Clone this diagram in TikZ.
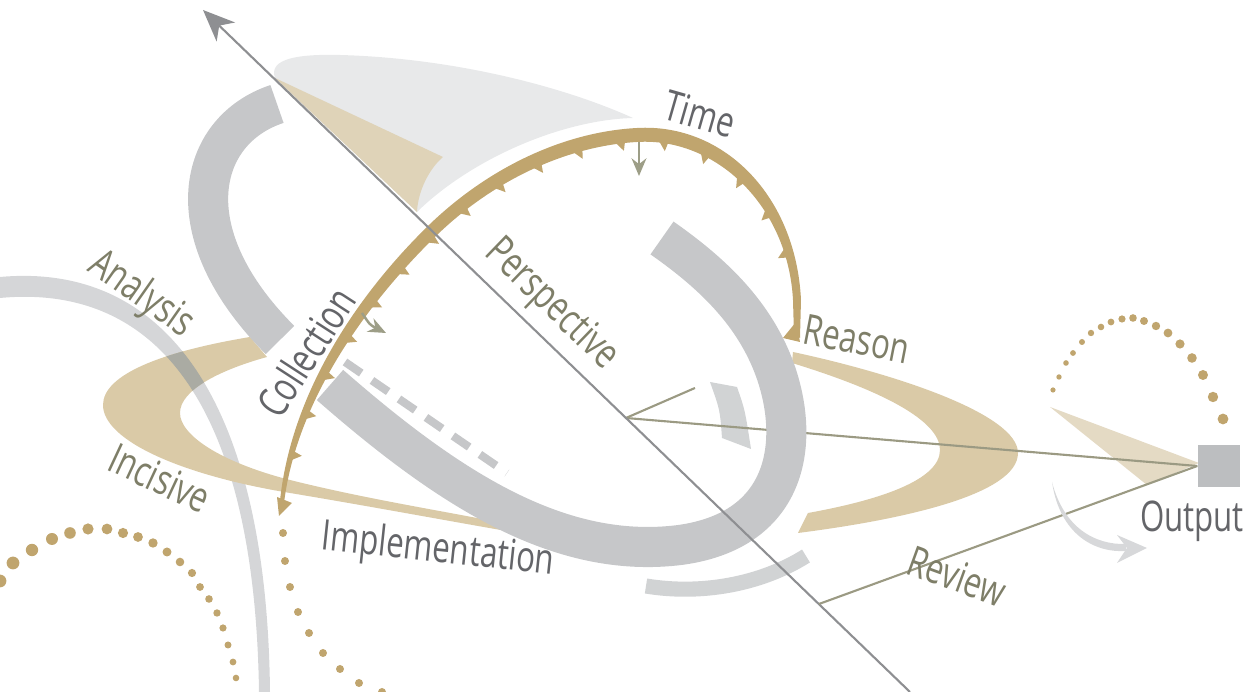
\documentclass[tikz,border=0pt]{standalone}
\usepackage{fontspec}
\setmainfont{Open Sans}[FakeStretch=0.74]
\usetikzlibrary{arrows.meta, decorations.markings, positioning}

\definecolor{ringgray}{HTML}{C6C7C9}
\definecolor{palering}{HTML}{D1D3D4}
\definecolor{sailgray}{HTML}{E8E9EA}
\definecolor{sailtan}{HTML}{DFD3B8}
\definecolor{bandtan}{HTML}{DACAA7}
\definecolor{gold}{HTML}{C0A56E}
\definecolor{linkolive}{HTML}{9B9A83}
\definecolor{axisgray}{HTML}{8E8F92}
\definecolor{textolive}{HTML}{7E7E68}
\definecolor{textdark}{HTML}{646569}
\definecolor{boxgray}{HTML}{BCBEC0}
\definecolor{arcgray}{HTML}{D5D6D8}
\definecolor{arcshade}{HTML}{AAABA3}
\definecolor{wedgetan}{HTML}{E4DAC4}
\definecolor{arrowolive}{HTML}{9D9E87}
\definecolor{sweepgray}{HTML}{D7D8DA}

\tikzset{
    ring/.style={draw=ringgray, line width=11.4pt},
    link/.style={draw=linkolive, line width=0.6pt},
    tag/.style={font=\fontsize{12}{14}\selectfont, text=textolive, inner sep=1pt},
    darktag/.style={tag, text=textdark},
    outbox/.style={rectangle, fill=boxgray, minimum size=0.42cm, inner sep=0pt},
    tick/.style={-{Stealth[length=5pt, width=4.2pt]}, draw=arrowolive, line width=0.7pt},
}

% left half of the tan orbit
\newcommand{\leftband}{(250,337) .. controls (160,352) and (103,375) .. (103,405)
    .. controls (103,440) and (180,475) .. (290,493)
    .. controls (380,508) and (470,525) .. (530,535)
    -- (507,524) .. controls (450,512) and (370,500) .. (290,480)
    .. controls (220,462) and (180,435) .. (180,413)
    .. controls (180,390) and (220,370) .. (267,357) -- cycle}
% thin grey arc under Analysis
\newcommand{\analysisarc}{(0,277) .. controls (165,262) and (267,400) .. (270,692)
    -- (259,692) .. controls (255,410) and (160,283) .. (0,298) -- cycle}
% inner rim of the time arc
\newcommand{\timeinner}{(283,512) .. controls (293,404) and (366,304) .. (437,235)
    .. controls (494,180) and (567,146) .. (637,142)
    .. controls (716,137) and (788,206) .. (793,300) -- (794,335)}

\begin{document}
\begin{tikzpicture}[x=0.01cm, y=-0.01cm]
    \useasboundingbox (0,0) rectangle (1247,692);

    \coordinate (axistop) at (203,10);
    \coordinate (axisbot) at (910,692);
    \coordinate (pivot) at (626,418);
    \coordinate (stub) at (695,388);
    \coordinate (rv) at (819,604);

    % sail
    \fill[sailgray] (275,78) .. controls (268,58) and (300,54) .. (340,55)
        .. controls (450,58) and (560,85) .. (633,118)
        .. controls (560,120) and (470,160) .. (417,212) -- cycle;
    \fill[sailtan] (275,78) -- (443,157) .. controls (430,168) and (418,190) .. (417,212) -- cycle;

    % tan orbit
    \fill[arcgray] \analysisarc;
    \fill[bandtan] \leftband;
    \fill[bandtan] (793,352) .. controls (900,375) and (1018,415) .. (1018,453)
        .. controls (1018,495) and (900,520) .. (798,533)
        -- (808,513) .. controls (880,500) and (940,480) .. (940,450)
        .. controls (940,420) and (880,390) .. (792,363) -- cycle;
    \begin{scope}
        \clip \leftband;
        \clip (0,0) rectangle (400,430);
        \fill[arcshade] \analysisarc;
    \end{scope}

    \fill[palering] (710,382) -- (737,387) .. controls (745,410) .. (751,449)
        -- (722,438) .. controls (720,410) .. (710,382) -- cycle;

    % links to the output
    \fill[wedgetan] (1050,407) -- (1199,463) -- (1147,485) -- cycle;
    \node[outbox] (out) at (1219,466) {};
    \draw[link] (pivot) -- (stub);
    \draw[link] (pivot) -- (out.west);

    % grey ring
    \draw[ring] (277,104) .. controls (198,130) and (172,232) .. (280,340);
    \draw[ring] (330,385) .. controls (450,490) and (560,560) .. (680,545)
        .. controls (790,530) and (800,440) .. (775,370)
        .. controls (755,315) and (715,275) .. (662,238);
    \draw[palering, line width=4.3pt] (646,586) .. controls (700,595) and (760,585) .. (806,556);
    \draw[ringgray, line width=2.3pt, dash pattern=on 5.6pt off 3.7pt] (345,362) -- (507,473);

    % time arc
    \fill[gold] (279,512) .. controls (287,398) and (356,296) .. (429,225)
        .. controls (487,169) and (562,132) .. (637,128)
        .. controls (724,123) and (796,196) .. (801,300) -- (800,338)
        -- (794,335) -- (793,300) .. controls (788,206) and (716,137) .. (637,142)
        .. controls (567,146) and (494,180) .. (437,235)
        .. controls (366,304) and (293,404) .. (283,512) -- cycle;
    \path[decorate, decoration={markings,
        mark=between positions 0.07 and 0.95 step 0.052 with
        {\fill[gold] (1pt,0.3pt) -- (-1.6pt,0.3pt) -- (0.4pt,-2.2pt) -- cycle;}}] \timeinner;
    \fill[gold] (277,497) -- (292,503) -- (279,516) -- cycle;
    \fill[gold] (796,322) -- (800,342) -- (783,338) -- cycle;
    \draw[tick] (639,142) -- (639,176);
    \draw[tick] (362,313) .. controls (370,325) .. (386,333);

    % perspective axis
    \draw[draw=axisgray, line width=0.6pt, -{Stealth[length=9pt, width=7.5pt, inset=2.6pt]}] (axisbot) -- (axistop);
    \draw[link] (rv) -- (out.west);

    % dotted paths
    \foreach \x/\y/\r in {0/581/6.4, 13/563/6.4, 32/550/6.2, 52/539/6, 70/533/5.8, 88/529/5.6,
        107/529/5.4, 123/533/5.1, 138/537/4.9, 153/543/4.7, 167/552/4.5, 180/562/4.3,
        192/573/4.1, 200/587/3.9, 209/599/3.8, 217/613/3.7, 223/628/3.6, 228/645/3.5,
        233/662/3.4, 236/678/3.3}
        \fill[gold] (\x,\y) circle[radius=\r];
    \foreach \x/\y in {283/533, 285/561, 290/587, 298/612, 309/633, 323/653,
        340/669, 359/683, 382/692}
        \fill[gold] (\x,\y) circle[radius=4];
    \foreach \x/\y/\r in {1053/390/2.6, 1059/377/2.7, 1066/363/2.8, 1073/353/2.9,
        1082/342/3, 1091/333/3.2, 1101/327/3.3, 1111/322/3.4, 1122/319/3.6,
        1133/318/3.8, 1144/321/4, 1156/326/4.2, 1168/333/4.4, 1180/344/4.6,
        1192/358/4.8, 1203/375/5, 1213/397/5.2, 1223/419/5.4}
        \fill[gold] (\x,\y) circle[radius=\r];

    % return sweep
    \fill[sweepgray] (1052,482) .. controls (1060,535) and (1095,553) .. (1126,551)
        -- (1126,544) .. controls (1095,545) and (1064,528) .. (1052,482) -- cycle;
    \fill[sweepgray] (1117,535) -- (1147,548) -- (1117,563) -- (1127,548) -- cycle;

    % labels
    \node[darktag, rotate=-16] (time) at (700,114) {Time};
    \node[tag, rotate=-44] (persp) at (551,305) {Perspective};
    \node[darktag, rotate=57] (coll) at (306,352) {Collection};
    \node[tag, rotate=-35] (anal) at (141,295) {Analysis};
    \node[tag, rotate=-25] (incis) at (160,478) {Incisive};
    \node[darktag, rotate=-6] (impl) at (438,551) {Implementation};
    \node[tag, rotate=-11] (reason) at (857,339) {Reason};
    \node[tag, rotate=-20] (review) at (957,576) {Review};
    \node[darktag] (outlbl) at (1192,521) {Output};
\end{tikzpicture}
\end{document}
